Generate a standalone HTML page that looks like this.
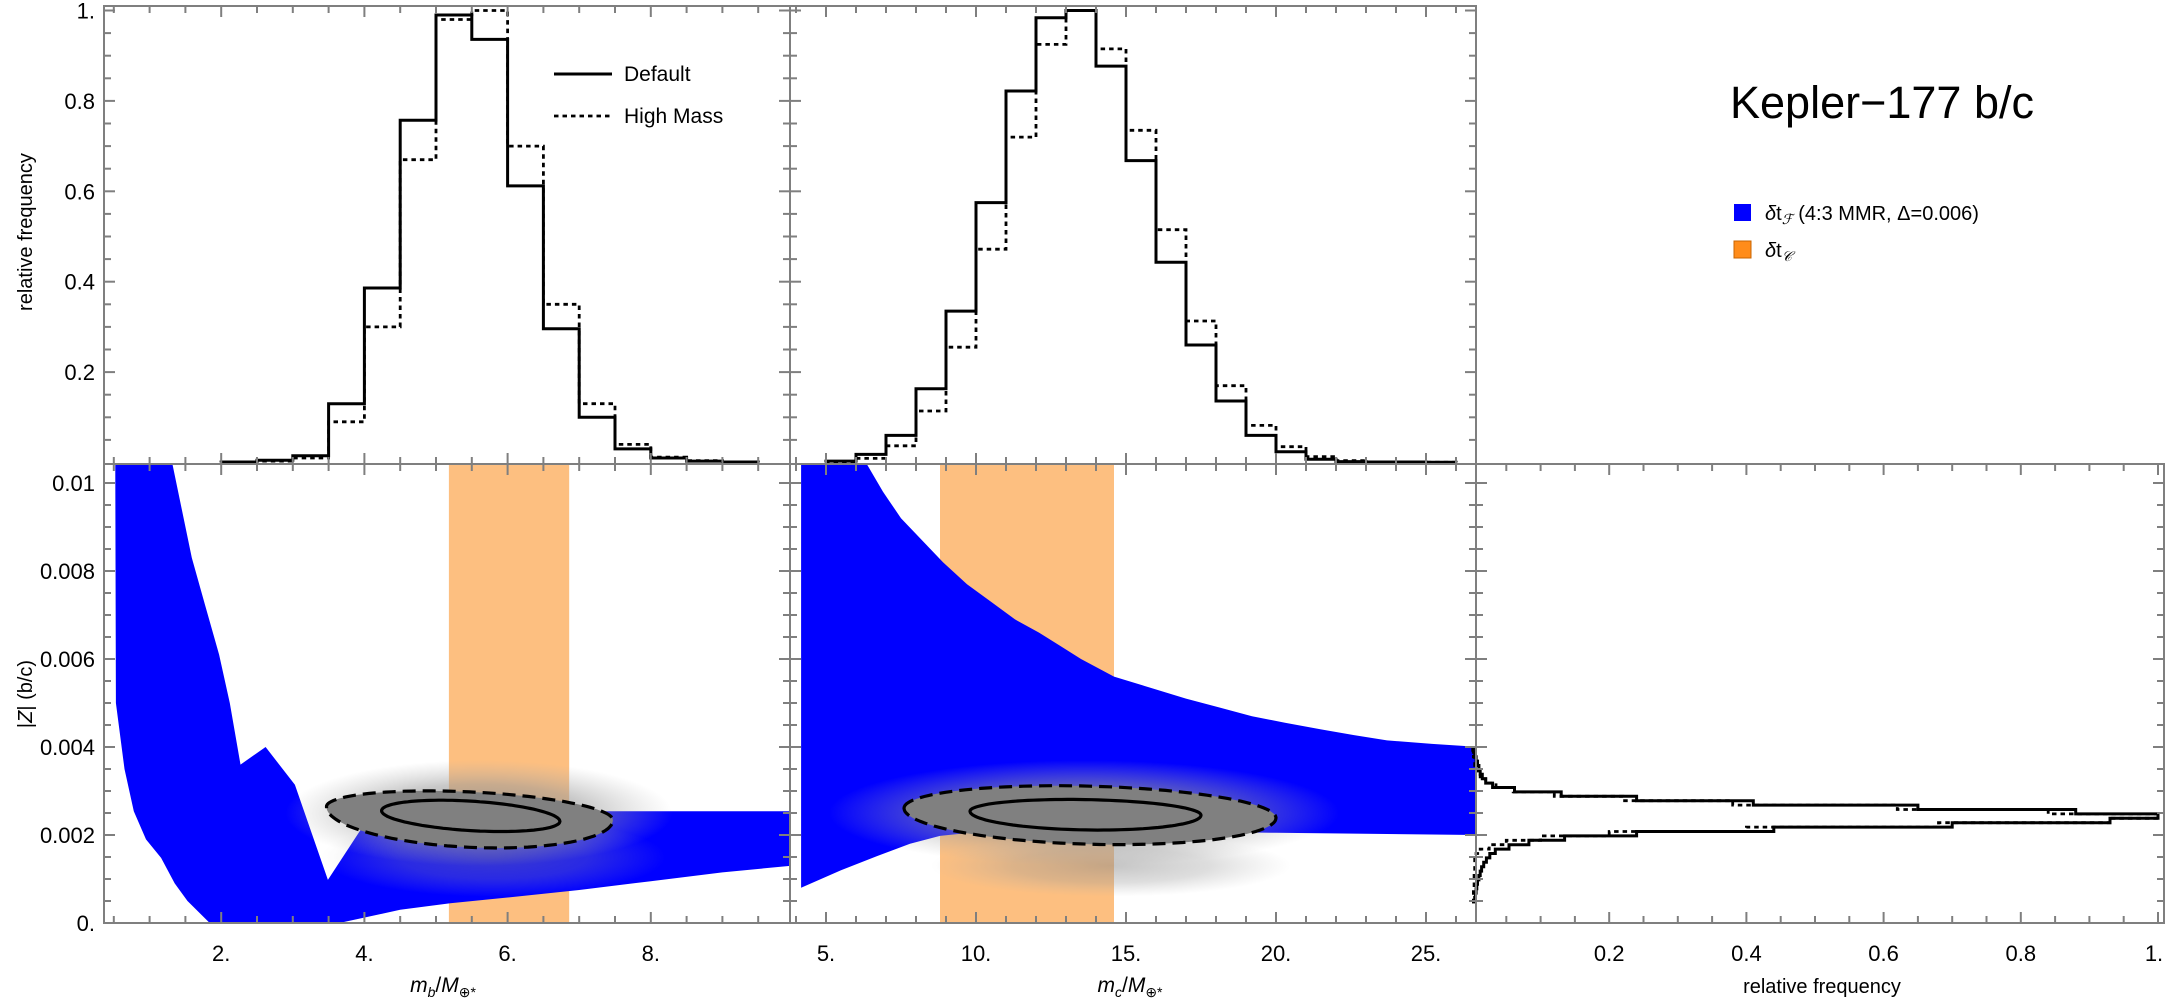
<!DOCTYPE html>
<html><head><meta charset="utf-8">
<style>
html,body{margin:0;padding:0;background:#fff;}
svg{display:block;font-family:"Liberation Sans",sans-serif;}
</style></head>
<body>
<svg id="chart" width="2169" height="1001" viewBox="0 0 2169 1001" xmlns="http://www.w3.org/2000/svg">
<defs>
<clipPath id="clipL"><rect x="104" y="464" width="686" height="459"/></clipPath>
<clipPath id="clipM"><rect x="790" y="464" width="686" height="459"/></clipPath>
<radialGradient id="cloudGrad">
<stop offset="0" stop-color="#8a8a8a" stop-opacity="0.9"/>
<stop offset="0.55" stop-color="#9a9a9a" stop-opacity="0.6"/>
<stop offset="1" stop-color="#b0b0b0" stop-opacity="0"/>
</radialGradient>
</defs>
<g id="layer-bands"></g>
<g id="layer-blue"></g>
<g id="layer-cloud"></g>
<g id="layer-contours"></g>
<g id="layer-hist"></g>
<g id="layer-axes"></g>
<g id="layer-text"></g>
</svg>
<script>
// ---------- data ----------
const mbBinStart = 2.0, mbBinWidth = 0.5;
const mbDefault = [0.001, 0.005, 0.015, 0.13, 0.386, 0.757, 0.99, 0.936, 0.612, 0.296, 0.10, 0.03, 0.01, 0.003, 0.001];
const mbHighMass = [0.001, 0.003, 0.01, 0.09, 0.30, 0.67, 0.98, 1.0, 0.70, 0.35, 0.13, 0.04, 0.012, 0.004, 0.001];
const mcBinStart = 5, mcBinWidth = 1;
const mcDefault = [0.003, 0.018, 0.06, 0.163, 0.335, 0.575, 0.822, 0.984, 1.0, 0.877, 0.668, 0.443, 0.26, 0.136, 0.06, 0.024, 0.007, 0.002, 0.001, 0.001, 0.0005];
const mcHighMass = [0.002, 0.009, 0.037, 0.114, 0.255, 0.472, 0.72, 0.925, 1.0, 0.915, 0.735, 0.515, 0.313, 0.17, 0.082, 0.035, 0.013, 0.004, 0.001, 0.001, 0.0005];
const zBinStart = 0.00048, zBinWidth = 0.0001;
const zDefault = [0.004,0.005,0.006,0.007,0.008,0.010,0.012,0.014,0.017,0.021,0.026,0.034,0.054,0.083,0.135,0.24,0.44,0.70,0.93,1.0,0.88,0.65,0.41,0.24,0.13,0.062,0.03,0.02,0.015,0.012,0.01,0.008,0.006,0.004,0.002];
const zHighMass = [0.002,0.002,0.002,0.003,0.003,0.003,0.003,0.004,0.004,0.004,0.006,0.012,0.025,0.05,0.10,0.20,0.40,0.68,0.93,1.0,0.84,0.62,0.38,0.22,0.12,0.06,0.035,0.02,0.012,0.008,0.005,0.004,0.003,0.002,0.001];
const bandB = [5.18, 6.86];
const bandC = [8.8, 14.6];
const blueLUpperM = [0.52,1.31,1.45,1.59,1.78,1.97,2.12,2.27,2.62,3.03,3.49,3.94,4.2,6,9.95];
const blueLUpperZ = [0.011,0.0105,0.0094,0.0083,0.0072,0.0061,0.0050,0.0036,0.0040,0.00314,0.00098,0.0021,0.00254,0.00254,0.00254];
const blueLLowerM = [0.52,0.53,0.65,0.78,0.95,1.16,1.35,1.53,1.84,3.65,4.5,5.2,6,7,8,9,9.95];
const blueLLowerZ = [0.011,0.0050,0.0035,0.00254,0.0019,0.00148,0.0009,0.0005,0,0,0.0003,0.00045,0.00058,0.00075,0.00095,0.00115,0.0013];
const blueMUpperM = [4.17,6.3,6.9,7.5,8.2,8.9,9.7,10.5,11.3,12.1,12.8,13.5,14.6,15.8,17,18.1,19.2,20.3,21.5,22.6,23.7,25.2,26.8];
const blueMUpperZ = [0.011,0.0105,0.0098,0.0092,0.0087,0.0082,0.0077,0.0073,0.0069,0.0066,0.0063,0.0060,0.0056,0.00535,0.0051,0.0049,0.0047,0.00455,0.0044,0.00427,0.00415,0.00407,0.0040];
const blueMLowerM = [4.17,5.5,6.7,7.8,8.8,10.5,14,20,26.8];
const blueMLowerZ = [0.0008,0.0012,0.00152,0.0018,0.00198,0.0021,0.0021,0.00205,0.0020];
// contours: [mLeft, zLeft, mRight, zRight, halfTop, halfBottom]
const contourB68 = [4.24, 0.00255, 6.73, 0.00231, 0.00034, 0.00033];
const contourB95 = [3.47, 0.00264, 7.47, 0.00234, 0.00049, 0.00077];
const contourC68 = [9.8, 0.00254, 17.5, 0.00245, 0.00031, 0.00038];
const contourC95 = [7.6, 0.00261, 20.0, 0.00239, 0.00061, 0.00071];
const mbTicks = ["2.","4.","6.","8."];
const mbTickVals = [2,4,6,8];
const mcTicks = ["5.","10.","15.","20.","25."];
const mcTickVals = [5,10,15,20,25];
const rfTicks = ["0.2","0.4","0.6","0.8","1."];
const rfTickVals = [0.2,0.4,0.6,0.8,1.0];
const topYTicks = ["0.2","0.4","0.6","0.8","1."];
const topYVals = [0.2,0.4,0.6,0.8,1.0];
const zTicks = ["0.","0.002","0.004","0.006","0.008","0.01"];
const zVals = [0,0.002,0.004,0.006,0.008,0.01];

// ---------- scales ----------
const xL = m => 78 + 71.6*m;
const xM = m => 676 + 30*m;
const xR = f => 1472 + 686*f;
const yT = v => 462.5 - 452*v;
const yB = z => 923 - 44000*z;
const NS = "http://www.w3.org/2000/svg";
function mk(tag, attrs, parent){
  const e = document.createElementNS(NS, tag);
  for (const k in attrs) e.setAttribute(k, attrs[k]);
  parent.appendChild(e); return e;
}
const G = id => document.getElementById(id);

// ---------- orange bands ----------
const bands = G('layer-bands');
let r = mk('rect',{x:xL(bandB[0]),y:464,width:xL(bandB[1])-xL(bandB[0]),height:459,fill:'#fdbf80'},bands);


r = mk('rect',{x:xM(bandC[0]),y:464,width:xM(bandC[1])-xM(bandC[0]),height:459,fill:'#fdbf80'},bands);



// ---------- blue regions ----------
function bandPoly(um,uz,lm,lz,xf){
  const pts=[];
  for(let i=0;i<um.length;i++) pts.push(xf(um[i]).toFixed(1)+','+yB(uz[i]).toFixed(1));
  for(let i=lm.length-1;i>=0;i--) pts.push(xf(lm[i]).toFixed(1)+','+yB(lz[i]).toFixed(1));
  return pts.join(' ');
}
const blue = G('layer-blue');
let p = mk('polygon',{points:bandPoly(blueLUpperM,blueLUpperZ,blueLLowerM,blueLLowerZ,xL),fill:'#0000ff','clip-path':'url(#clipL)'},blue);


p = mk('polygon',{points:bandPoly(blueMUpperM,blueMUpperZ,blueMLowerM,blueMLowerZ,xM),fill:'#0000ff','clip-path':'url(#clipM)'},blue);



// ---------- posterior cloud ----------
const cloud = G('layer-cloud');
function cloudEl(xf,m,z,rxm,ryz,op,clip,name){
  const cx=xf(m), cy=yB(z), rx=xf(m+rxm)-cx, ry=44000*ryz;
  const e = mk('ellipse',{cx:cx,cy:cy,rx:rx,ry:ry,fill:'url(#cloudGrad)',opacity:op,'clip-path':clip},cloud);
  
  
}
cloudEl(xL,5.6,0.0025,2.7,0.0012,0.9,'url(#clipL)','posterior-cloud-b');
cloudEl(xL,5.8,0.0015,2.4,0.0009,0.45,'url(#clipL)','posterior-cloud-b-lower');
cloudEl(xM,13.6,0.0025,8.5,0.0012,0.9,'url(#clipM)','posterior-cloud-c');
cloudEl(xM,14.5,0.0013,6,0.0007,0.55,'url(#clipM)','posterior-cloud-c-lower');

// ---------- contours ----------
function contourPath(c,xf){
  const [mL,zL,mR,zR,hT,hB]=c; let d='';
  for(let i=0;i<=120;i++){
    const t=i/120*2*Math.PI, u=(1-Math.cos(t))/2, s=Math.sin(t);
    const m=mL+u*(mR-mL), zc=zL+u*(zR-zL);
    const z=zc+(s>0? s*hT : s*hB);
    d+=(i?'L':'M')+xf(m).toFixed(1)+','+yB(z).toFixed(1);
  }
  return d+'Z';
}
const cont = G('layer-contours');
[[contourB95,contourB68,xL,'b'],[contourC95,contourC68,xM,'c']].forEach(([c95,c68,xf,n])=>{
  let e = mk('path',{d:contourPath(c95,xf),fill:'#808080',stroke:'none'},cont);
  
  
  e = mk('path',{d:contourPath(c95,xf),fill:'none',stroke:'#000','stroke-width':3.2,'stroke-dasharray':'13 7'},cont);
  
  
  e = mk('path',{d:contourPath(c68,xf),fill:'none',stroke:'#000','stroke-width':3.2},cont);
  
  
});

// ---------- histograms ----------
const hist = G('layer-hist');
function vStep(start,w,vals,xf,yf){
  let d='M'+xf(start).toFixed(1)+','+yf(0).toFixed(1);
  vals.forEach((v,i)=>{
    d+='L'+xf(start+i*w).toFixed(1)+','+yf(v).toFixed(1);
    d+='L'+xf(start+(i+1)*w).toFixed(1)+','+yf(v).toFixed(1);
  });
  d+='L'+xf(start+vals.length*w).toFixed(1)+','+yf(0).toFixed(1);
  return d;
}
function hStep(start,w,vals){
  let d='M'+xR(0).toFixed(1)+','+yB(start).toFixed(1);
  vals.forEach((v,i)=>{
    d+='L'+xR(v).toFixed(1)+','+yB(start+i*w).toFixed(1);
    d+='L'+xR(v).toFixed(1)+','+yB(start+(i+1)*w).toFixed(1);
  });
  d+='L'+xR(0).toFixed(1)+','+yB(start+vals.length*w).toFixed(1);
  return d;
}
function hp(d,dash,name){
  const a={d:d,fill:'none',stroke:'#000','stroke-width':dash?2.8:3,'stroke-linejoin':'miter'};
  if(dash) a['stroke-dasharray']='4.5 4';
  const e=mk('path',a,hist);
  
  
}
hp(vStep(mbBinStart,mbBinWidth,mbHighMass,xL,yT),true,'hist-mb-high-mass');
hp(vStep(mbBinStart,mbBinWidth,mbDefault,xL,yT),false,'hist-mb-default');
hp(vStep(mcBinStart,mcBinWidth,mcHighMass,xM,yT),true,'hist-mc-high-mass');
hp(vStep(mcBinStart,mcBinWidth,mcDefault,xM,yT),false,'hist-mc-default');
hp(hStep(zBinStart,zBinWidth,zHighMass),true,'hist-z-high-mass');
hp(hStep(zBinStart,zBinWidth,zDefault),false,'hist-z-default');

// ---------- axes / frames / ticks ----------
const ax = G('layer-axes');
const FC='#7f7f7f';
function frame(x,y,w,h,name){
  const e=mk('rect',{x:x,y:y,width:w,height:h,fill:'none',stroke:FC,'stroke-width':2},ax);
  
  
}
function tick(x1,y1,x2,y2){ mk('line',{x1:x1,y1:y1,x2:x2,y2:y2,stroke:FC,'stroke-width':2},ax); }
function xTicks(x0,x1,yTop,yBot,xf,from,to,step,majEvery){
  for(let v=from, i=0; v<=to+1e-9; v+=step, i++){
    const x=xf(v); if(x<x0+1||x>x1-1) continue;
    const maj = Math.abs(v/majEvery-Math.round(v/majEvery))<1e-6;
    const L=maj?11:7;
    tick(x,yBot,x,yBot-L); tick(x,yTop,x,yTop+L);
  }
}
function yTicks(x0,x1,yTop,yBot,yf,from,to,step,majEvery){
  for(let v=from; v<=to+1e-12; v+=step){
    const y=yf(v); if(y<yTop+1||y>yBot-1) continue;
    const maj = Math.abs(v/majEvery-Math.round(v/majEvery))<1e-6;
    const L=maj?11:7;
    tick(x0,y,x0+L,y); tick(x1,y,x1-L,y);
  }
}
xTicks(104,790,6,464,xL,0.5,9.5,0.5,2);
yTicks(104,790,6,464,yT,0.05,1.0,0.05,0.2);
xTicks(790,1476,6,464,xM,4,26,1,5);
yTicks(790,1476,6,464,yT,0.05,1.0,0.05,0.2);
xTicks(104,790,464,923,xL,0.5,9.5,0.5,2);
yTicks(104,790,464,923,yB,0.0005,0.0105,0.0005,0.002);
xTicks(790,1476,464,923,xM,4,26,1,5);
yTicks(790,1476,464,923,yB,0.0005,0.0105,0.0005,0.002);
xTicks(1476,2164,464,923,xR,0.05,1.0,0.05,0.2);
yTicks(1476,2164,464,923,yB,0.0005,0.0105,0.0005,0.002);
frame(104,6,686,458,'frame-top-mb');
frame(790,6,686,458,'frame-top-mc');
frame(104,464,686,459,'frame-bottom-mb');
frame(790,464,686,459,'frame-bottom-mc');
frame(1476,464,688,459,'frame-bottom-z');

// ---------- tick labels ----------
const tx = G('layer-text');
function label(x,y,s,anchor,name,size){
  const e=mk('text',{x:x,y:y,'text-anchor':anchor||'middle','font-size':size||22,fill:'#000'},tx);
  e.textContent=s;
  
  
  return e;
}
topYVals.forEach((v,i)=>label(95,yT(v)+8,topYTicks[i],'end','top-y-tick-label'));
zVals.forEach((v,i)=>label(95,yB(v)+8,zTicks[i],'end','z-y-tick-label'));
mbTickVals.forEach((v,i)=>label(xL(v),961,mbTicks[i],'middle','mb-x-tick-label'));
mcTickVals.forEach((v,i)=>label(xM(v),961,mcTicks[i],'middle','mc-x-tick-label'));
rfTickVals.forEach((v,i)=>label(xR(v)-(i==4?4:0),961,rfTicks[i],'middle','rf-x-tick-label'));
</script>
<svg style="position:absolute;left:0;top:0" width="2169" height="1001" xmlns="http://www.w3.org/2000/svg" font-family="Liberation Sans, sans-serif">
<text x="0" y="0" transform="translate(32,232) rotate(-90)" text-anchor="middle" font-size="20">relative frequency</text>
<text x="0" y="0" transform="translate(32,694) rotate(-90)" text-anchor="middle" font-size="20">|<tspan font-style="italic">Z</tspan>| (b/c)</text>
<text x="443" y="992" text-anchor="middle" font-size="21"><tspan font-style="italic">m</tspan><tspan font-style="italic" font-size="14" dy="5">b</tspan><tspan dy="-5">/</tspan><tspan font-style="italic">M</tspan><tspan font-size="14" dy="5">⊕*</tspan></text>
<text x="1130" y="992" text-anchor="middle" font-size="21"><tspan font-style="italic">m</tspan><tspan font-style="italic" font-size="14" dy="5">c</tspan><tspan dy="-5">/</tspan><tspan font-style="italic">M</tspan><tspan font-size="14" dy="5">⊕*</tspan></text>
<text x="1822" y="993" text-anchor="middle" font-size="20">relative frequency</text>
<g>
<line x1="554" y1="74" x2="612" y2="74" stroke="#000" stroke-width="3"/>
<text x="624" y="81" font-size="21">Default</text>
<line x1="554" y1="116" x2="612" y2="116" stroke="#000" stroke-width="2.8" stroke-dasharray="4.5 4"/>
<text x="624" y="123" font-size="21">High Mass</text>
</g>
<text x="1730" y="118" font-size="45">Kepler−177 b/c</text>
<g>
<rect x="1734" y="204" width="17" height="17" fill="#0000ff"/>
<text x="1765" y="220" font-size="20"><tspan font-style="italic">δ</tspan>t<tspan font-style="italic" font-size="14" dy="4">ℱ</tspan><tspan dy="-4"> (4:3 MMR, Δ=0.006)</tspan></text>
<rect x="1734" y="241" width="17" height="17" fill="#ff8c1a" stroke="#c86400" stroke-width="1"/>
<text x="1765" y="257" font-size="20"><tspan font-style="italic">δ</tspan>t<tspan font-style="italic" font-size="14" dy="4">𝒞</tspan></text>
</g>
</svg>
</body></html>
